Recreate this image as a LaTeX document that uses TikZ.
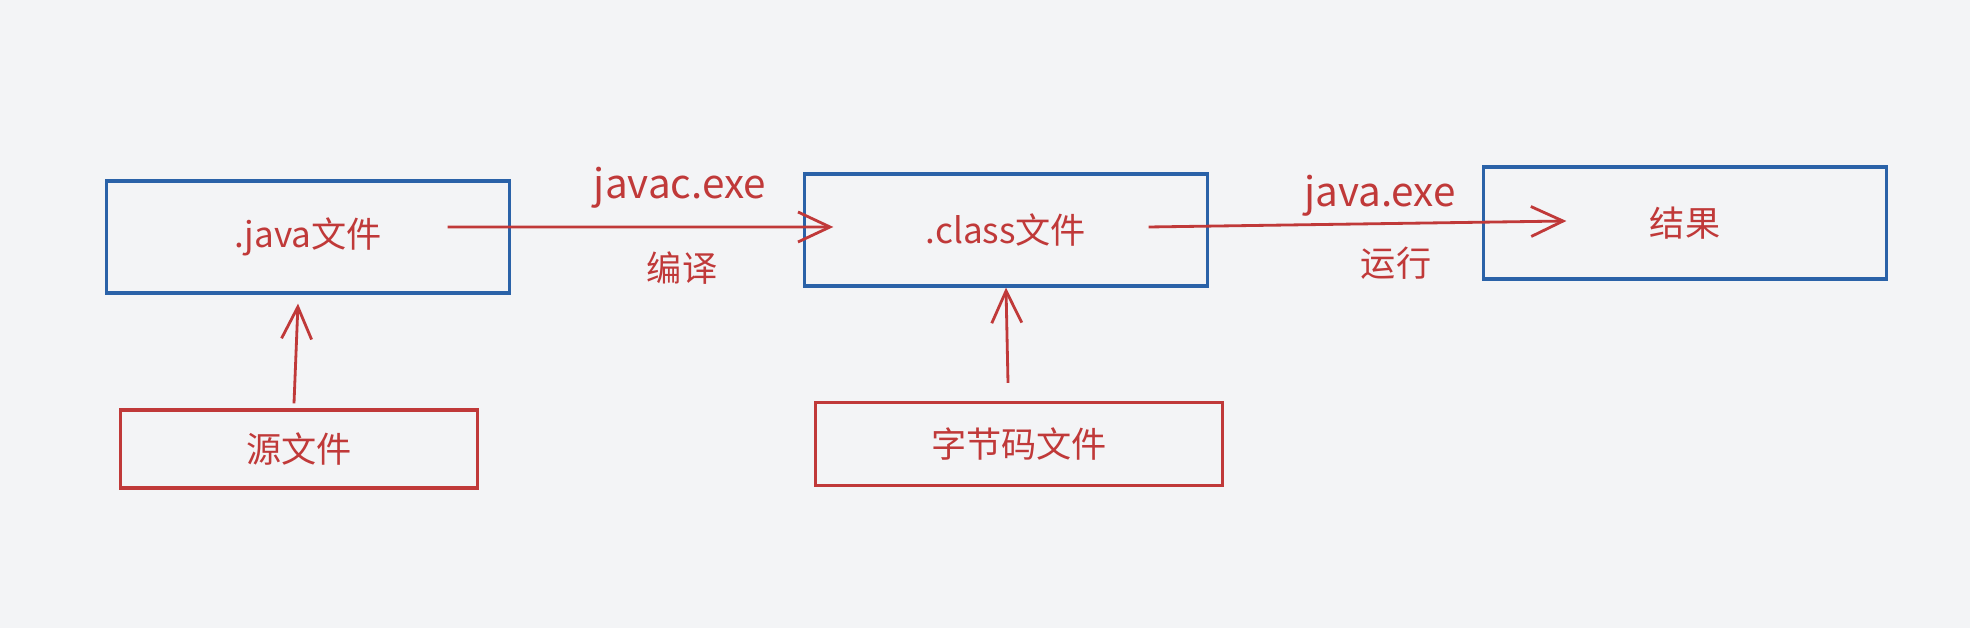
\documentclass[tikz,border=0pt]{standalone}
\usepackage{fontspec}
\setmainfont{Noto Sans CJK SC}
\usetikzlibrary{arrows.meta}
\definecolor{inkred}{RGB}{192,57,57}
\definecolor{inkblue}{RGB}{42,98,168}
\definecolor{paper}{RGB}{243,244,246}
\tikzset{
  filebox/.style={draw=inkblue, line width=0.9pt, text=inkred, minimum width=4.02cm, minimum height=1.12cm, font=\fontsize{10}{12}\selectfont},
  srcbox/.style={filebox, draw=inkred},
  flow/.style={draw=inkred, line width=0.8pt, -{Straight Barb[length=3.2mm,width=3mm]}},
  steplabel/.style={text=inkred, font=\fontsize{10}{12}\selectfont},
  toollabel/.style={steplabel, font=\fontsize{11.5}{13}\selectfont}
}
\begin{document}
\begin{tikzpicture}[x=0.01cm,y=-0.01cm]
        \fill[paper] (0,0) rectangle (1970,628);
        \useasboundingbox (0,0) rectangle (1970,628);
        \node[filebox] (java) at (308,237) {.java文件};
        \node[filebox] (class) at (1006,230) {.class文件};
        \node[filebox] (result) at (1685,223) {结果};
        \node[srcbox, minimum width=3.56cm, minimum height=0.78cm] (src) at (299,449) {源文件};
        \node[srcbox, minimum width=4.07cm, minimum height=0.83cm] (bytecode) at (1019,444) {字节码文件};
        \draw[flow] ([xshift=-0.63cm,yshift=0.10cm]java.east) -- ([xshift=0.30cm,yshift=0.03cm]class.west);
        \draw[flow] ([xshift=-0.60cm,yshift=0.03cm]class.east) -- ([xshift=0.84cm,yshift=0.02cm]result.west);
        \draw[flow] ([xshift=-0.05cm,yshift=0.05cm]src.north) -- ([xshift=-0.10cm,yshift=-0.09cm]java.south);
        \draw[flow] ([xshift=-0.11cm,yshift=0.18cm]bytecode.north) -- (class.south);
        \node[toollabel] (compile) at (680,188) {javac.exe};
        \node[steplabel] (compilecn) at (682,268) {编译};
        \node[toollabel] (run) at (1380,196) {java.exe};
        \node[steplabel] (runcn) at (1396,263) {运行};
    \end{tikzpicture}
\end{document}
